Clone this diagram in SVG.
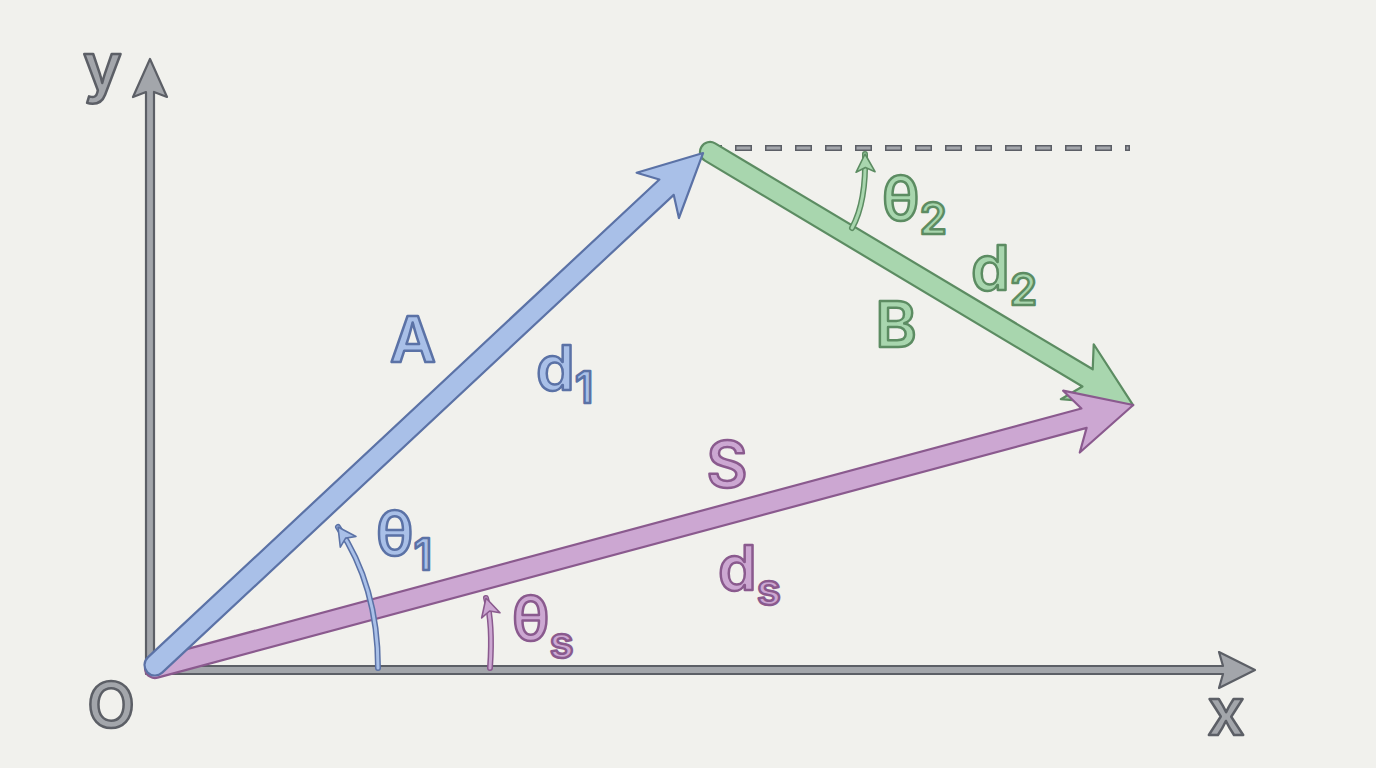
<svg xmlns="http://www.w3.org/2000/svg" width="1376" height="768" viewBox="0 0 1376 768">
<style>
.lbl{font-family:Inter,"Noto Sans","DejaVu Sans",sans-serif;font-weight:600;stroke-width:2.5;stroke-linejoin:round}
.blue{fill:#a9c0e8;stroke:#5b72a6}
.green{fill:#a8d6ae;stroke:#5c8c62}
.purple{fill:#cca7d2;stroke:#8a5a8e}
.gray{fill:#a3a6ab;stroke:#5c5f66}
.vec{stroke-width:2.2;stroke-linejoin:round}
.arcO{fill:none;stroke-width:6;stroke-linecap:round}
.arcI{fill:none;stroke-width:3;stroke-linecap:round}
</style>
<defs>
<marker id="mh-blue" viewBox="-2 -12 24 24" refX="18" refY="0" markerWidth="24" markerHeight="24" markerUnits="userSpaceOnUse" orient="auto"><path d="M0,-9.5 L18,0 L0,9.5 L4.5,0 Z" class="blue" stroke-width="1.6" stroke-linejoin="round"/></marker>
<marker id="mh-purple" viewBox="-2 -12 24 24" refX="18" refY="0" markerWidth="24" markerHeight="24" markerUnits="userSpaceOnUse" orient="auto"><path d="M0,-9.5 L18,0 L0,9.5 L4.5,0 Z" class="purple" stroke-width="1.6" stroke-linejoin="round"/></marker>
<marker id="mh-green" viewBox="-2 -12 24 24" refX="18" refY="0" markerWidth="24" markerHeight="24" markerUnits="userSpaceOnUse" orient="auto"><path d="M0,-9.5 L18,0 L0,9.5 L4.5,0 Z" class="green" stroke-width="1.6" stroke-linejoin="round"/></marker>
</defs>
<rect width="1376" height="768" fill="#f1f1ed"/>

<g id="axes">
<path class="gray vec" d="M150,59 L167,97 L154,92 L154,666 L1223,666 L1219,652 L1255,670 L1219,688 L1223,674 L146,674 L146,92 L133,97 Z"/>
<g id="ref-dash">
<line x1="705" y1="148" x2="1130" y2="148" stroke="#5c5f66" stroke-width="6" stroke-dasharray="17 13"/>
<line x1="706.5" y1="148" x2="1128.5" y2="148" stroke="#a3a6ab" stroke-width="3" stroke-dasharray="14 16"/>
</g>
</g>

<g id="connectors">
<path id="vecB" class="green vec" transform="translate(710,152) rotate(30.89)" d="M0,-10 L440,-10 L428,-32 L493,0 L428,32 L440,10 L0,10 A10,10 0 0 1 0,-10 Z"/>
<path id="vecS" class="purple vec" transform="translate(155,668) rotate(-15.05)" d="M0,-10 L962,-10 L949,-32 L1013,0 L949,32 L962,10 L0,10 A10,10 0 0 1 0,-10 Z"/>
<path id="vecA" class="blue vec" transform="translate(155,665) rotate(-43.05)" d="M0,-10.5 L700,-10.5 L688,-31 L750,0 L688,31 L700,10.5 L0,10.5 A10.5,10.5 0 0 1 0,-10.5 Z"/>
</g>

<g id="angles">
<g id="arc-theta1">
<path class="arcO" stroke="#5b72a6" d="M378,668 C378,612 364,565 338,527"/>
<path class="arcI" stroke="#a9c0e8" d="M378,668 C378,612 364,565 338,527" marker-end="url(#mh-blue)"/>
</g>
<g id="arc-thetas">
<path class="arcO" stroke="#8a5a8e" d="M490,668 C492,640 491,616 486,598"/>
<path class="arcI" stroke="#cca7d2" d="M490,668 C492,640 491,616 486,598" marker-end="url(#mh-purple)"/>
</g>
<g id="arc-theta2">
<path class="arcO" stroke="#5c8c62" d="M852,228 C862,210 866,186 865,154"/>
<path class="arcI" stroke="#a8d6ae" d="M852,228 C862,210 866,186 865,154" marker-end="url(#mh-green)"/>
</g>
</g>

<g id="labels">
<text id="t-y" class="lbl gray" x="83" y="90" font-size="66">y</text>
<text id="t-O" class="lbl gray" x="111" y="727" font-size="62" text-anchor="middle">O</text>
<text id="t-x" class="lbl gray" x="1226" y="735" font-size="66" text-anchor="middle">x</text>
<text id="t-A" class="lbl blue" x="413" y="362" font-size="63" text-anchor="middle">A</text>
<text id="t-d1" class="lbl blue" x="536" y="390" font-size="62">d<tspan font-size="44" dy="13">1</tspan></text>
<text id="t-th1" class="lbl blue" x="376" y="555" font-size="60">θ<tspan font-size="44" dy="15">1</tspan></text>
<text id="t-B" class="lbl green" x="896" y="347" font-size="63" text-anchor="middle">B</text>
<text id="t-d2" class="lbl green" x="971" y="290" font-size="62">d<tspan font-size="44" dy="15">2</tspan></text>
<text id="t-th2" class="lbl green" x="882" y="220" font-size="60">θ<tspan font-size="44" dy="14">2</tspan></text>
<text id="t-S" class="lbl purple" x="727" y="487" font-size="63" text-anchor="middle">S</text>
<text id="t-ds" class="lbl purple" x="718" y="590" font-size="62">d<tspan font-size="44" dy="15">s</tspan></text>
<text id="t-ths" class="lbl purple" x="512" y="640" font-size="60">θ<tspan font-size="44" dy="18">s</tspan></text>
</g>
</svg>
